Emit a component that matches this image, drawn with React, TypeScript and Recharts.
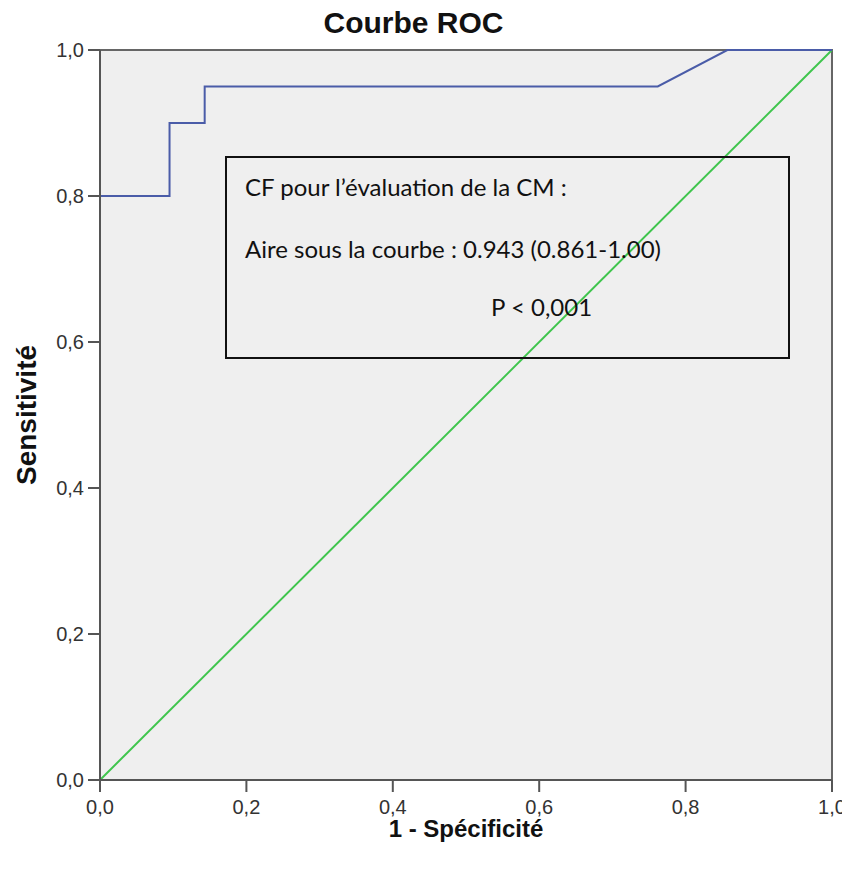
import { CartesianGrid, Line, LineChart, ReferenceArea, XAxis, YAxis } from "recharts";

// ROC curve points (1 - specificity, sensitivity)
const rocFpr = [0, 0, 0.095, 0.095, 0.143, 0.143, 0.762, 0.857, 1];
const rocTpr = [0, 0.8, 0.8, 0.9, 0.9, 0.95, 0.95, 1, 1];
const refLine = [0, 1];
const ticks = [0, 0.2, 0.4, 0.6, 0.8, 1];

const rocData = rocFpr.map((x, i) => ({ x, y: rocTpr[i] }));
const diagData = refLine.map((v) => ({ x: v, y: v }));

const fmt = (v: number) => v.toFixed(1).replace(".", ",");
const font = "Liberation Sans, Arial, sans-serif";

const XTick = ({ x, y, payload }: any) => (
  <text x={x} y={y + 20} textAnchor="middle" fontFamily={font} fontSize={20} fill="#333">
    {fmt(payload.value)}
  </text>
);

const YTick = ({ x, y, payload }: any) => (
  <text x={x - 2} y={y + 7} textAnchor="end" fontFamily={font} fontSize={20} fill="#333">
    {fmt(payload.value)}
  </text>
);

export default function App() {
  return (
    <div style={{ position: "relative", width: 850, height: 860, margin: "-8px 0 0 -8px" }}>
      <div
        style={{
          position: "absolute",
          left: 0,
          top: 6,
          width: 827,
          textAlign: "center",
          fontFamily: font,
          fontWeight: "bold",
          fontSize: 30,
          color: "#111",
        }}
      >
        Courbe ROC
      </div>
      <LineChart width={850} height={860} margin={{ top: 50, right: 18, bottom: 2, left: 0 }}>
        <CartesianGrid horizontal={false} vertical={false} fill="#efefef" />
        <ReferenceArea x1={0} x2={1} y1={0} y2={1} fill="none" stroke="#666" strokeWidth={2} ifOverflow="visible" />
        <XAxis
          type="number"
          dataKey="x"
          domain={[0, 1]}
          ticks={ticks}
          height={78}
          tickSize={12}
          stroke="#555"
          strokeWidth={2}
          tick={<XTick />}
          allowDuplicatedCategory={false}
          label={{
            content: ({ viewBox }: any) => (
              <text
                x={viewBox.x + viewBox.width / 2}
                y={viewBox.y + 57}
                textAnchor="middle"
                fontFamily={font}
                fontWeight="bold"
                fontSize={24}
                fill="#111"
              >
                1 - Spécificité
              </text>
            ),
          }}
        />
        <YAxis
          type="number"
          dataKey="y"
          domain={[0, 1]}
          ticks={ticks}
          width={100}
          tickSize={12}
          stroke="#555"
          strokeWidth={2}
          tick={<YTick />}
          label={{
            content: ({ viewBox }: any) => {
              const cx = 29;
              const cy = viewBox.y + viewBox.height / 2;
              return (
                <text
                  x={cx}
                  y={cy}
                  transform={`rotate(-90 ${cx} ${cy})`}
                  textAnchor="middle"
                  dominantBaseline="middle"
                  fontFamily={font}
                  fontWeight="bold"
                  fontSize={28}
                  fill="#111"
                >
                  Sensitivité
                </text>
              );
            },
          }}
        />
        <Line
          data={diagData}
          dataKey="y"
          type="linear"
          stroke="#3fc54d"
          strokeWidth={2}
          dot={false}
          activeDot={false}
          isAnimationActive={false}
        />
        <Line
          data={rocData}
          dataKey="y"
          type="linear"
          stroke="#4a5ca8"
          strokeWidth={2}
          dot={false}
          activeDot={false}
          isAnimationActive={false}
        />
      </LineChart>
      <div
        style={{
          position: "absolute",
          left: 225,
          top: 156,
          width: 565,
          height: 203,
          border: "2px solid #111",
          fontFamily: "Lato, 'Open Sans', sans-serif",
          fontSize: 24,
          color: "#111",
          boxSizing: "border-box",
        }}
      >
        <div style={{ position: "absolute", left: 18, top: 14 }}>CF pour l’évaluation de la CM :</div>
        <div style={{ position: "absolute", left: 18, top: 76 }}>Aire sous la courbe : 0.943 (0.861-1.00)</div>
        <div style={{ position: "absolute", left: 264, top: 134 }}>P &lt; 0,001</div>
      </div>
    </div>
  );
}
